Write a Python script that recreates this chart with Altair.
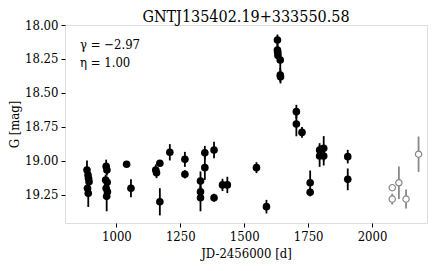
import altair as alt
import pandas as pd

# Filled (black) observations
t_fill = [885, 889, 891, 893, 887, 890,
          960, 963, 958, 964, 960, 965, 962,
          1040, 1057, 1154, 1157, 1170, 1170, 1209, 1268, 1268,
          1329, 1329, 1329, 1346, 1346, 1382, 1382, 1415, 1434,
          1548, 1587, 1630, 1630, 1631, 1632, 1641, 1641, 1642,
          1704, 1704, 1726, 1758, 1758, 1795, 1795, 1811, 1811,
          1905, 1905]
g_fill = [19.066, 19.103, 19.127, 19.152, 19.20, 19.238,
          19.04, 19.066, 19.14, 19.157, 19.20, 19.226, 19.26,
          19.024, 19.20, 19.066, 19.086, 19.017, 19.30, 18.936, 18.988, 19.098,
          19.147, 19.226, 19.27, 18.939, 19.049, 18.919, 19.27, 19.176, 19.176,
          19.049, 19.336, 18.11, 18.184, 18.20, 18.225, 18.257, 18.368, 18.38,
          18.637, 18.728, 18.79, 19.16, 19.23, 18.919, 18.963, 18.907, 18.963,
          18.968, 19.135]
e_fill = [0.07, 0.04, 0.04, 0.04, 0.04, 0.10,
          0.05, 0.04, 0.04, 0.04, 0.04, 0.04, 0.11,
          0.02, 0.066, 0.04, 0.04, 0.02, 0.10, 0.06, 0.055, 0.03,
          0.07, 0.04, 0.10, 0.05, 0.09, 0.06, 0.03, 0.045, 0.06,
          0.04, 0.05, 0.04, 0.05, 0.05, 0.05, 0.07, 0.05, 0.05,
          0.05, 0.09, 0.04, 0.09, 0.03, 0.05, 0.08, 0.09, 0.07,
          0.05, 0.08]

# Open (grey) observations
t_open = [2079, 2079, 2105, 2133, 2182]
g_open = [19.196, 19.28, 19.16, 19.28, 18.95]
e_open = [0.02, 0.04, 0.12, 0.07, 0.13]

x_ticks = [1000, 1250, 1500, 1750, 2000]
y_ticks = [18.00, 18.25, 18.50, 18.75, 19.00, 19.25]

title = "GNTJ135402.19+333550.58"
ann1 = "γ = −2.97"
ann2 = "η = 1.00"

df_fill = pd.DataFrame({"t": t_fill, "g": g_fill, "e": e_fill})
df_fill["lo"] = df_fill["g"] - df_fill["e"]
df_fill["hi"] = df_fill["g"] + df_fill["e"]
df_open = pd.DataFrame({"t": t_open, "g": g_open, "e": e_open})
df_open["lo"] = df_open["g"] - df_open["e"]
df_open["hi"] = df_open["g"] + df_open["e"]

FONT = "DejaVu Serif Condensed, DejaVu Serif"

xs = alt.Scale(domain=[799, 2215], nice=False, zero=False)
ys = alt.Scale(domain=[18.0, 19.456], nice=False, zero=False, reverse=True)

xax = alt.Axis(values=x_ticks, format="d", title="JD-2456000 [d]", grid=False, tickSize=4,
               labelFontSize=13, titleFontSize=13, labelFont=FONT, titleFont=FONT,
               labelColor="black", titleColor="black", tickColor="black",
               domain=False, titleFontWeight="normal", labelPadding=3, titlePadding=4,
               labelOverlap=False, labelFlush=False)
yax = alt.Axis(values=y_ticks, format=".2f", title="G [mag]", grid=False, tickSize=4,
               labelFontSize=13, titleFontSize=13, labelFont=FONT, titleFont=FONT,
               labelColor="black", titleColor="black", tickColor="black",
               domain=False, titleFontWeight="normal", labelPadding=3,
               titleX=-44, labelOverlap=False, labelFlush=False)

X = alt.X("t:Q", scale=xs, axis=xax)

base_f = alt.Chart(df_fill)
bars_f = base_f.mark_rule(color="black", strokeWidth=1.8).encode(
    x=X,
    y=alt.Y("lo:Q", scale=ys, axis=yax),
    y2="hi:Q",
)
pts_f = base_f.mark_point(filled=True, color="black", size=58, opacity=1, shape="circle").encode(
    x=X,
    y=alt.Y("g:Q", scale=ys, axis=yax),
)

base_o = alt.Chart(df_open)
bars_o = base_o.mark_rule(color="#888888", strokeWidth=1.8).encode(
    x=X,
    y=alt.Y("lo:Q", scale=ys, axis=yax),
    y2="hi:Q",
)
pts_o = base_o.mark_point(filled=True, fill="white", stroke="#888888", strokeWidth=1.2,
                          size=40, opacity=1, shape="circle").encode(
    x=X,
    y=alt.Y("g:Q", scale=ys, axis=yax),
)

t1 = alt.Chart(pd.DataFrame({"s": [ann1]})).mark_text(
    align="left", baseline="middle", font=FONT, fontSize=13, color="black"
).encode(x=alt.value(15), y=alt.value(20), text="s:N")
t2 = alt.Chart(pd.DataFrame({"s": [ann2]})).mark_text(
    align="left", baseline="middle", font=FONT, fontSize=13, color="black"
).encode(x=alt.value(15), y=alt.value(38), text="s:N")
tt = alt.Chart(pd.DataFrame({"s": [title]})).mark_text(
    align="center", baseline="top", font=FONT, fontSize=16, color="black"
).encode(x=alt.value(181), y=alt.value(-16), text="s:N")

chart = alt.layer(bars_f, pts_f, bars_o, pts_o, t1, t2, tt).properties(
    width=362, height=198,
    autosize=alt.AutoSizeParams(type="none"),
    padding={"left": 57, "top": 17, "right": 1, "bottom": 40},
).configure_view(stroke="black", strokeWidth=1).configure_axis(
    labelOverlap=False
).configure(background="white", font=FONT)

chart.save("out.html", embed_options={"renderer": "svg", "actions": False})
